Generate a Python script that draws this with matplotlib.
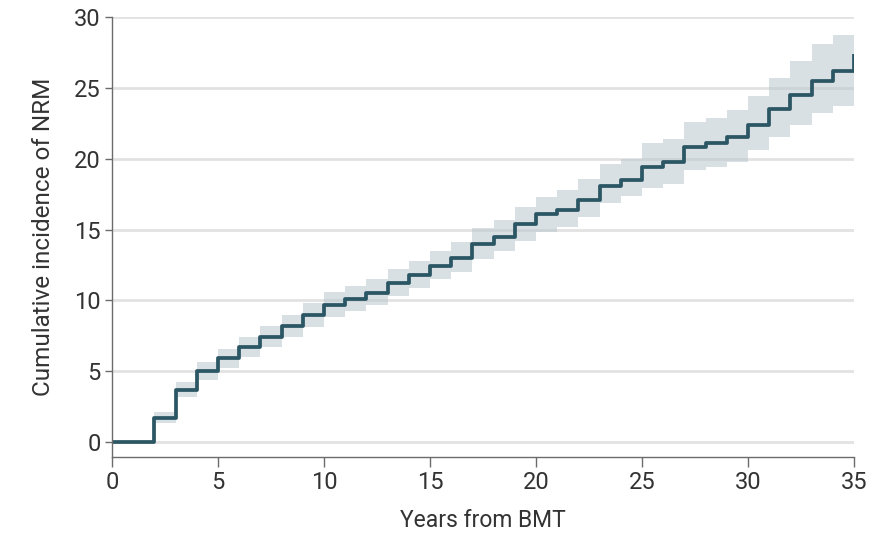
import numpy as np
import matplotlib
matplotlib.use("Agg")
import matplotlib.pyplot as plt

# Step start years (each step holds until the next year), last interval ends at 35
years = [0, 2, 3, 4, 5, 6, 7, 8, 9, 10, 11, 12, 13, 14, 15, 16, 17, 18, 19,
         20, 21, 22, 23, 24, 25, 26, 27, 28, 29, 30, 31, 32, 33, 34, 35]
# Cumulative incidence of NRM (%) for each step
incidence = [0, 1.7, 3.7, 5.0, 5.9, 6.7, 7.4, 8.2, 9.0, 9.7, 10.1, 10.5, 11.2,
             11.8, 12.4, 13.0, 14.0, 14.5, 15.4, 16.1, 16.4, 17.1, 18.1, 18.5,
             19.4, 19.8, 20.8, 21.1, 21.5, 22.4, 23.5, 24.5, 25.5, 26.2, 27.4]
# 95% confidence band, lower and upper
ci_lower = [0, 1.35, 3.2, 4.4, 5.2, 6.0, 6.7, 7.4, 8.1, 8.85, 9.25, 9.7, 10.3,
            10.85, 11.5, 12.0, 12.9, 13.5, 14.2, 14.8, 15.2, 15.9, 16.9, 17.4,
            17.9, 18.2, 19.2, 19.4, 19.8, 20.6, 21.5, 22.4, 23.2, 23.7, 23.7]
ci_upper = [0, 2.1, 4.25, 5.65, 6.6, 7.4, 8.2, 9.0, 9.8, 10.6, 11.0, 11.5, 12.2,
            12.8, 13.5, 14.1, 15.1, 15.7, 16.6, 17.3, 17.8, 18.6, 19.6, 20.0,
            21.1, 21.4, 22.6, 22.9, 23.4, 24.4, 25.7, 26.9, 28.1, 28.7, 28.7]

x_ticks = [0, 5, 10, 15, 20, 25, 30, 35]
y_ticks = [0, 5, 10, 15, 20, 25, 30]

plt.rcParams["font.family"] = ["Roboto", "DejaVu Sans"]

fig = plt.figure(figsize=(8.72, 5.37), dpi=100)
ax = fig.add_axes([0.1284, 0.149, 0.851, 0.8194])

# grid first so the band sits over it
for y in y_ticks:
    ax.axhline(y, color="#e2e2e2", linewidth=2, zorder=0)

ax.fill_between(years, ci_lower, ci_upper, step="post",
                color="#b9c7cf", alpha=0.55, linewidth=0, zorder=1)
ax.step(years[:-1] + [35], incidence[:-1] + [incidence[-2]], where="post",
        color="#2b5663", linewidth=2.7, zorder=2)
# final jump at 35 years
ax.plot([35, 35], [incidence[-2], incidence[-1]], color="#2b5663",
        linewidth=2.7, solid_capstyle="butt", zorder=2)

ax.set_xlim(0, 35)
ax.set_ylim(-1.05, 30)
ax.set_xticks(x_ticks)
ax.set_yticks(y_ticks)

for side in ["top", "right"]:
    ax.spines[side].set_visible(False)
for side in ["left", "bottom"]:
    ax.spines[side].set_color("#6b6b6b")
    ax.spines[side].set_linewidth(1.0)

ax.tick_params(axis="x", length=7, width=1, color="#6b6b6b",
               labelsize=17, labelcolor="#333333", pad=3)
ax.tick_params(axis="y", length=5, width=1, color="#6b6b6b",
               labelsize=17, labelcolor="#333333", pad=3)

ax.set_xlabel("Years from BMT", fontsize=16.5, color="#333333", labelpad=11)
ax.set_ylabel("Cumulative incidence of NRM", fontsize=17.5, color="#333333",
              labelpad=14)

fig.savefig("out.png", dpi=100)
